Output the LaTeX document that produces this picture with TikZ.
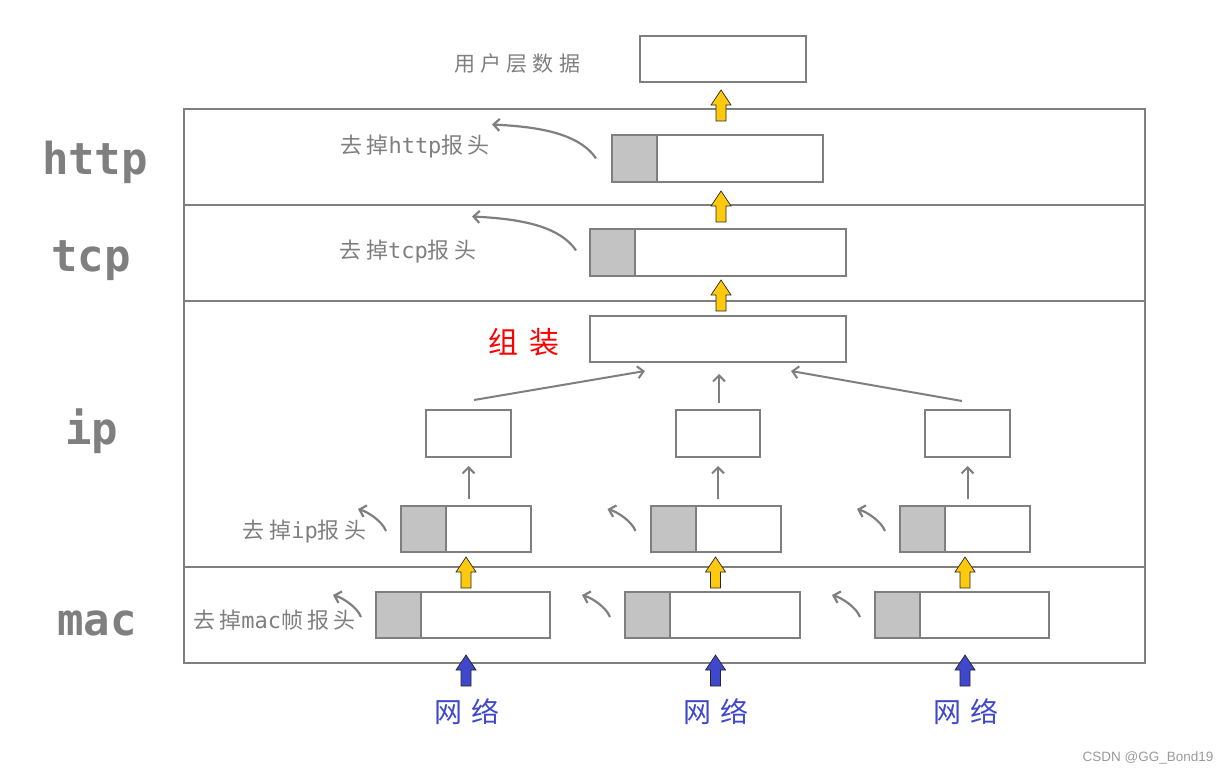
\documentclass[tikz,border=0pt]{standalone}
\usepackage{fontspec}
\usepackage{tikz}
\usetikzlibrary{arrows.meta, positioning}
\newfontfamily\cjk[LetterSpace=20]{Noto Sans CJK SC}
\newfontfamily\cjkwide[LetterSpace=25]{Noto Sans CJK SC}
\newfontfamily\cjkbig[LetterSpace=35]{Noto Sans CJK SC}
\newfontfamily\monob{DejaVu Sans Mono}
\newfontfamily\latn{DejaVu Sans Mono}
\newfontfamily\wmfont{Liberation Sans}
\usepackage{xcolor}
\definecolor{linegray}{HTML}{7F7F7F}
\definecolor{hdrgray}{HTML}{C3C3C3}
\definecolor{gold}{HTML}{FFC90E}
\definecolor{netblue}{HTML}{3F48CC}
\definecolor{wmgray}{HTML}{9A9A9A}
\tikzset{%
	pkt/.style={
		draw=linegray,
		line width=2pt,
		fill=white,
		inner sep=0pt,
		minimum height=46pt
	},
	hdr/.style={
		pkt,
		fill=hdrgray,
		minimum width=45pt,
		anchor=west
	},
	layername/.style={
		text=linegray,
		anchor=base,
		font=\monob\bfseries\fontsize{44}{44}\selectfont
	},
	note/.style={
		text=linegray,
		inner sep=0pt,
		font=\cjk\fontsize{22}{22}\selectfont
	},
	frame/.style={draw=linegray, line width=2pt},
	thinarrow/.style={draw=linegray, line width=2pt, -{Straight Barb[length=6pt,width=12pt]}},
	curl/.style={draw=linegray, line width=2.2pt, -{Straight Barb[length=6pt,width=12pt]}},
	yup/.style={fill=gold, draw=black!85, line width=0.7pt},
	bup/.style={fill=netblue, draw=black!85, line width=0.7pt},
	blockup/.pic={\draw[pic actions] (-5,0) -- (-5,-16) -- (-10,-16) -- (0,-31) -- (10,-16) -- (5,-16) -- (5,0) -- cycle;},
	curlsm/.pic={\draw[curl] (0,0) .. controls (-4,-10) and (-18,-19) .. (-28,-22);},
	curlbig/.pic={\draw[curl] (0,0) .. controls (-18,-27) and (-64,-32) .. (-104,-34);},
}

\begin{document}
\begin{tikzpicture}[x=1pt, y=-1pt]
		\useasboundingbox (0,0) rectangle (1230,775);
		
		% Draw the layer frame
		\draw[frame] (184,109) rectangle (1145,663);
		\draw[frame] (184,205) -- (1145,205);
		\draw[frame] (184,301) -- (1145,301);
		\draw[frame] (184,567) -- (1145,567);
		\node[layername] (lhttp) at (95,175) {http};
		\node[layername] (ltcp) at (91,272) {tcp};
		\node[layername] (lip) at (92,444) {ip};
		\node[layername] (lmac) at (97,635) {mac};
		
		% Draw the user data
		\node[pkt, minimum width=166pt] (userbox) at (723,59) {};
		\node[note, font=\cjkwide\fontsize{21}{21}\selectfont] (usertxt) at (517,64) {用户层数据};
		\pic[yup] at (721,121) {blockup};
		
		% Draw the http layer
		\node[pkt, minimum width=211pt, minimum height=47pt] (httpbox) at (717.5,158.5) {};
		\node[hdr, minimum height=47pt] (httphdr) at (httpbox.west) {};
		\node[note] (httptxt) at (415,147) {去掉{\latn http}报头};
		\pic at ([shift={(-15,0)}]httpbox.west) {curlbig};
		\pic[yup] at (721,222) {blockup};
		
		% Draw the tcp layer
		\node[pkt, minimum width=256pt, minimum height=47pt] (tcpbox) at (718,252.5) {};
		\node[hdr, minimum height=47pt] (tcphdr) at (tcpbox.west) {};
		\node[note] (tcptxt) at (408,252) {去掉{\latn tcp}报头};
		\pic at ([shift={(-13,-2)}]tcpbox.west) {curlbig};
		\pic[yup] at (721,311) {blockup};
		
		% Draw the ip layer
		\node[pkt, minimum width=256pt] (asmbox) at (718,339) {};
		\node[text=red, inner sep=0pt, font=\cjkbig\fontsize{30}{30}\selectfont] (asmtxt) at (524,342) {组装};
		\node[pkt, minimum width=85pt, minimum height=47pt] (sb1) at (468.5,433.5) {};
		\node[pkt, minimum width=84pt, minimum height=47pt] (sb2) at (718,433.5) {};
		\node[pkt, minimum width=85pt, minimum height=47pt] (sb3) at (967.5,433.5) {};
		\draw[thinarrow] ([shift={(5.5,-9)}]sb1.north) -- ([shift={(-73,8)}]asmbox.south);
		\draw[thinarrow] ([shift={(1,-6)}]sb2.north) -- ([shift={(1,11)}]asmbox.south);
		\draw[thinarrow] ([shift={(-5.5,-8)}]sb3.north) -- ([shift={(73,8)}]asmbox.south);
		
		\node[pkt, minimum width=130pt] (ipb1) at (466,529) {};
		\node[pkt, minimum width=130pt] (ipb2) at (715.5,529) {};
		\node[pkt, minimum width=130pt] (ipb3) at (965,529) {};
		\node[hdr] (iph1) at (ipb1.west) {};
		\node[hdr] (iph2) at (ipb2.west) {};
		\node[hdr] (iph3) at (ipb3.west) {};
		\draw[thinarrow] ([yshift=6pt]sb1.south |- ipb1.north) -- ([yshift=-8pt]sb1.south);
		\draw[thinarrow] ([yshift=6pt]sb2.south |- ipb2.north) -- ([yshift=-8pt]sb2.south);
		\draw[thinarrow] ([yshift=6pt]sb3.south |- ipb3.north) -- ([yshift=-8pt]sb3.south);
		\node[note] (iptxt) at (304.5,532) {去掉{\latn ip}报头};
		\pic at ([shift={(-14,2)}]ipb1.west) {curlsm};
		\pic at ([shift={(-14,2)}]ipb2.west) {curlsm};
		\pic at ([shift={(-14,2)}]ipb3.west) {curlsm};
		\pic[yup] at (466,588) {blockup};
		\pic[yup] at (715.5,588) {blockup};
		\pic[yup] at (965,588) {blockup};
		
		% Draw the mac layer
		\node[pkt, minimum width=174pt] (macb1) at (463,615) {};
		\node[pkt, minimum width=175pt] (macb2) at (712.5,615) {};
		\node[pkt, minimum width=174pt] (macb3) at (962,615) {};
		\node[hdr] (mach1) at (macb1.west) {};
		\node[hdr] (mach2) at (macb2.west) {};
		\node[hdr] (mach3) at (macb3.west) {};
		\node[note] (mactxt) at (274.5,620) {去掉{\latn mac}帧报头};
		\pic at ([shift={(-14,2)}]macb1.west) {curlsm};
		\pic at ([shift={(-14,2)}]macb2.west) {curlsm};
		\pic at ([shift={(-14,2)}]macb3.west) {curlsm};
		
		% Draw the network input
		\node[text=netblue, inner sep=0pt, font=\cjkbig\fontsize{28}{28}\selectfont] (net1) at (467,712) {网络};
		\node[text=netblue, inner sep=0pt, font=\cjkbig\fontsize{28}{28}\selectfont] (net2) at (716,712) {网络};
		\node[text=netblue, inner sep=0pt, font=\cjkbig\fontsize{28}{28}\selectfont] (net3) at (966,712) {网络};
		\pic[bup] at (466,686) {blockup};
		\pic[bup] at (715.5,686) {blockup};
		\pic[bup] at (965,686) {blockup};
		
		\node[text=wmgray, font=\wmfont\fontsize{13.5}{13.5}\selectfont] (mark) at (1148,758) {CSDN @GG\_Bond19};
	\end{tikzpicture}
\end{document}
